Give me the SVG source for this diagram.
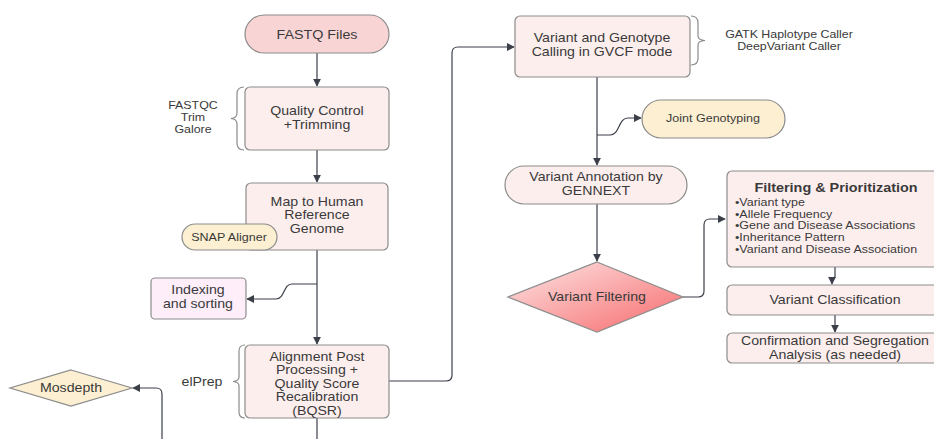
<svg xmlns="http://www.w3.org/2000/svg" width="934" height="439" viewBox="0 0 934 439">
<defs>
<marker id="ah" viewBox="0 0 10 10" refX="9" refY="5" markerWidth="8" markerHeight="8" markerUnits="userSpaceOnUse" orient="auto">
<path d="M0,0 L10,5 L0,10 z" fill="#3a3f48"/>
</marker>
<linearGradient id="gf" x1="0" y1="0" x2="1" y2="1">
<stop offset="0" stop-color="#fde6e6"/>
<stop offset="1" stop-color="#f7696b"/>
</linearGradient>
<style>
text{font-family:"Liberation Sans",Arial,sans-serif;font-size:12px;fill:#3a3a3a;text-anchor:middle;transform-box:fill-box;transform-origin:center;transform:scaleX(1.18)}
.pk{fill:#fdeeee;stroke:#8c8c8c;stroke-width:1.2}
.pk2{fill:#f9d4d4;stroke:#8c8c8c;stroke-width:1.2}
.yl{fill:#fdf0d2;stroke:#8c8c8c;stroke-width:1.2}
.lv{fill:#fdeefa;stroke:#8c8c8c;stroke-width:1.2}
.br{fill:none;stroke:#8c8c8c;stroke-width:1.2}
.c{fill:none;stroke:#3a3f48;stroke-width:1.2}
.s{font-size:10.5px}
.m{font-size:11px;transform:scaleX(1.14)}
.l{text-anchor:start;font-size:10.4px;transform-origin:left center;transform:scaleX(1.2)}
.t{font-weight:bold;font-size:12px;transform:scaleX(1.2)}
</style>
</defs>
<g id="connectors">
<path class="c" d="M317,53 V86" marker-end="url(#ah)"/>
<path class="c" d="M317,150 V182" marker-end="url(#ah)"/>
<path class="c" d="M317,250 V344" marker-end="url(#ah)"/>
<path class="c" d="M317,284 H292 C283,284 285,299 276,299 H247" marker-end="url(#ah)"/>
<path class="c" d="M317,418 V439"/>
<path class="c" d="M162,439 V394 Q162,388 156,388 H133" marker-end="url(#ah)"/>
<path class="c" d="M389,381 H446 Q452,381 452,375 V53 Q452,47 458,47 H514" marker-end="url(#ah)"/>
<path class="c" d="M597,77 V165" marker-end="url(#ah)"/>
<path class="c" d="M597,135 H610 C620,135 618,118 628,118 H641" marker-end="url(#ah)"/>
<path class="c" d="M597,204 V261" marker-end="url(#ah)"/>
<path class="c" d="M683,297 H698 Q704,297 704,291 V225 Q704,219 710,219 H725" marker-end="url(#ah)"/>
<path class="c" d="M835,267 V276 Q835,279 832,280 V284" marker-end="url(#ah)"/>
<path class="c" d="M835,315 V332" marker-end="url(#ah)"/>
</g>
<g id="fastq">
<rect class="pk2" x="245" y="15" width="144" height="38" rx="19"/>
<text x="317" y="39" style="font-size:13px;transform:scaleX(1.1)">FASTQ Files</text>
</g>
<g id="qc">
<rect class="pk" x="245" y="87" width="144" height="63" rx="5"/>
<text x="317" y="115">Quality Control</text>
<text x="317" y="129">+Trimming</text>
</g>
<g id="qc-tools">
<path class="br" d="M244,87 Q237,87 237,94 V113 Q237,118 231,118.5 Q237,119 237,124 V143 Q237,150 244,150"/>
<text class="s" x="193" y="109">FASTQC</text>
<text class="s" x="193" y="120.8">Trim</text>
<text class="s" x="193" y="132.6">Galore</text>
</g>
<g id="map">
<rect class="pk" x="246" y="183" width="142" height="67" rx="5"/>
<text x="317" y="206">Map to Human</text>
<text x="317" y="219.5">Reference</text>
<text x="317" y="233">Genome</text>
</g>
<g id="snap">
<rect class="yl" x="182" y="224" width="95" height="26" rx="13"/>
<text class="m" x="229" y="241">SNAP Aligner</text>
</g>
<g id="indexing">
<rect class="lv" x="151" y="278" width="95" height="41" rx="4"/>
<text x="198" y="294.5">Indexing</text>
<text x="198" y="308">and sorting</text>
</g>
<g id="alignment">
<rect class="pk" x="245" y="345" width="144" height="73" rx="5"/>
<text x="317" y="361">Alignment Post</text>
<text x="317" y="374.5">Processing +</text>
<text x="317" y="388">Quality Score</text>
<text x="317" y="401.5">Recalibration</text>
<text x="317" y="415">(BQSR)</text>
</g>
<g id="elprep">
<path class="br" d="M245,345 Q239,345 239,351 V377 Q239,381 233,381.5 Q239,382 239,386 V412 Q239,418 245,418"/>
<text x="202" y="386">elPrep</text>
</g>
<g id="mosdepth">
<path class="yl" d="M71,370 L132,388 L71,406 L10,388 z"/>
<text x="71" y="392">Mosdepth</text>
</g>
<g id="calling">
<rect class="pk" x="515" y="16" width="175" height="61" rx="5"/>
<text x="602" y="42">Variant and Genotype</text>
<text x="602" y="56">Calling in GVCF mode</text>
</g>
<g id="callers">
<path class="br" d="M691,16 Q698,16 698,23 V36 Q698,40 705,40.5 Q698,41 698,45 V58 Q698,65 691,65"/>
<text class="s" x="789" y="38">GATK Haplotype Caller</text>
<text class="s" x="789" y="49.8">DeepVariant Caller</text>
</g>
<g id="joint">
<rect class="yl" x="642" y="100" width="143" height="38" rx="19"/>
<text class="m" x="713" y="122">Joint Genotyping</text>
</g>
<g id="annotation">
<rect class="pk" x="505" y="166" width="182" height="38" rx="19"/>
<text x="596" y="181.5">Variant Annotation by</text>
<text x="596" y="195">GENNEXT</text>
</g>
<g id="vfilter">
<path d="M597,262 L683,297 L597,332 L508,297 z" fill="url(#gf)" stroke="#8c8c8c" stroke-width="1.2"/>
<text x="597" y="301">Variant Filtering</text>
</g>
<g id="prioritization">
<rect class="pk" x="727" y="171" width="212" height="96" rx="5"/>
<text class="t" x="836" y="192">Filtering &amp; Prioritization</text>
<text class="l" x="735" y="206">•Variant type</text>
<text class="l" x="735" y="217.7">•Allele Frequency</text>
<text class="l" x="735" y="229.4">•Gene and Disease Associations</text>
<text class="l" x="735" y="241.1">•Inheritance Pattern</text>
<text class="l" x="735" y="252.8">•Variant and Disease Association</text>
</g>
<g id="classification">
<rect class="pk" x="727" y="285" width="212" height="30" rx="5"/>
<text x="835" y="304">Variant Classification</text>
</g>
<g id="confirmation">
<rect class="pk" x="727" y="333" width="212" height="30" rx="5"/>
<text x="835" y="345.5">Confirmation and Segregation</text>
<text x="835" y="359">Analysis (as needed)</text>
</g>
</svg>
